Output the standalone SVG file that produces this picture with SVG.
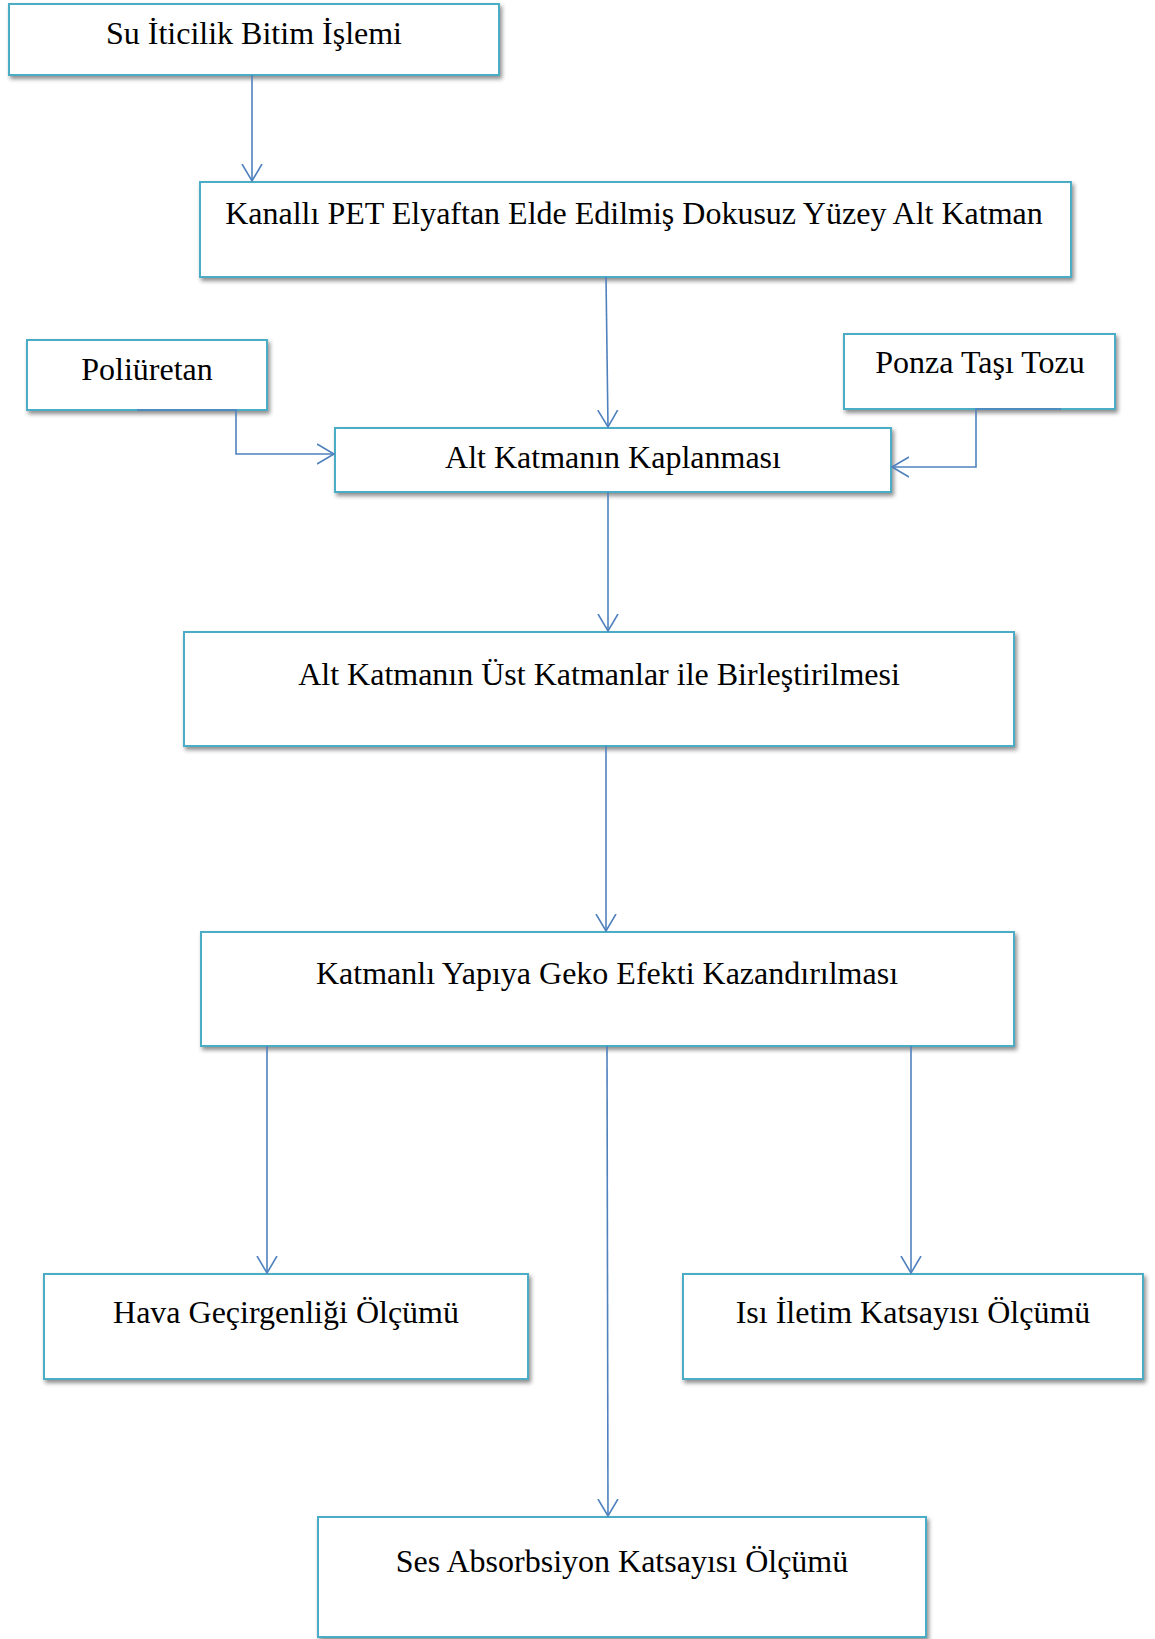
<svg xmlns="http://www.w3.org/2000/svg" width="1155" height="1639" viewBox="0 0 1155 1639">
<defs>
<filter id="sh" x="-5%" y="-10%" width="115%" height="130%">
<feDropShadow dx="2" dy="3" stdDeviation="2" flood-color="#000" flood-opacity="0.45"/>
</filter>
<marker id="ah" markerUnits="userSpaceOnUse" markerWidth="22" markerHeight="24" refX="17" refY="11" orient="auto">
<path d="M0,1 L17,11 L0,21" fill="none" stroke="#4F81BD" stroke-width="1.6"/>
</marker>
<style>
.box{fill:#fff;stroke:#4BACC6;stroke-width:2;filter:url(#sh)}
.t{font-family:"Liberation Serif","Times New Roman",serif;font-size:32px;fill:#000;text-anchor:middle}
.c{fill:none;stroke:#4F81BD;stroke-width:1.6;marker-end:url(#ah)}
</style>
</defs>
<rect width="1155" height="1639" fill="#fff"/>
<g id="n1"><rect class="box" x="9" y="4" width="490" height="71"/><text class="t" x="254" y="44">Su İticilik Bitim İşlemi</text></g>
<g id="n2"><rect class="box" x="200" y="182" width="871" height="95"/><text class="t" x="634" y="224">Kanallı PET Elyaftan Elde Edilmiş Dokusuz Yüzey Alt Katman</text></g>
<g id="n3"><rect class="box" x="27" y="340" width="240" height="70"/><text class="t" x="147" y="380">Poliüretan</text></g>
<g id="n4"><rect class="box" x="844" y="334" width="271" height="75"/><text class="t" x="980" y="373">Ponza Taşı Tozu</text></g>
<g id="n5"><rect class="box" x="335" y="428" width="556" height="64"/><text class="t" x="613" y="468">Alt Katmanın Kaplanması</text></g>
<g id="n6"><rect class="box" x="184" y="632" width="830" height="114"/><text class="t" x="599" y="685">Alt Katmanın Üst Katmanlar ile Birleştirilmesi</text></g>
<g id="n7"><rect class="box" x="201" y="932" width="813" height="114"/><text class="t" x="607" y="984">Katmanlı Yapıya Geko Efekti Kazandırılması</text></g>
<g id="n8"><rect class="box" x="44" y="1274" width="484" height="105"/><text class="t" x="286" y="1323">Hava Geçirgenliği Ölçümü</text></g>
<g id="n9"><rect class="box" x="683" y="1274" width="460" height="105"/><text class="t" x="913" y="1323">Isı İletim Katsayısı Ölçümü</text></g>
<g id="n10"><rect class="box" x="318" y="1517" width="608" height="120"/><text class="t" x="622" y="1572">Ses Absorbsiyon Katsayısı Ölçümü</text></g>
<g id="connectors">
<path class="c" d="M252,75 L252,181"/>
<path class="c" d="M606,277 L608,427"/>
<path class="c" d="M137,410 H236 V454 H334"/>
<path class="c" d="M1061,409 H976 V467 H892"/>
<path class="c" d="M608,492 L608,631"/>
<path class="c" d="M606,746 L606,931"/>
<path class="c" d="M267,1046 L267,1273"/>
<path class="c" d="M607,1046 L608,1516"/>
<path class="c" d="M911,1046 L911,1273"/>
</g>
</svg>
